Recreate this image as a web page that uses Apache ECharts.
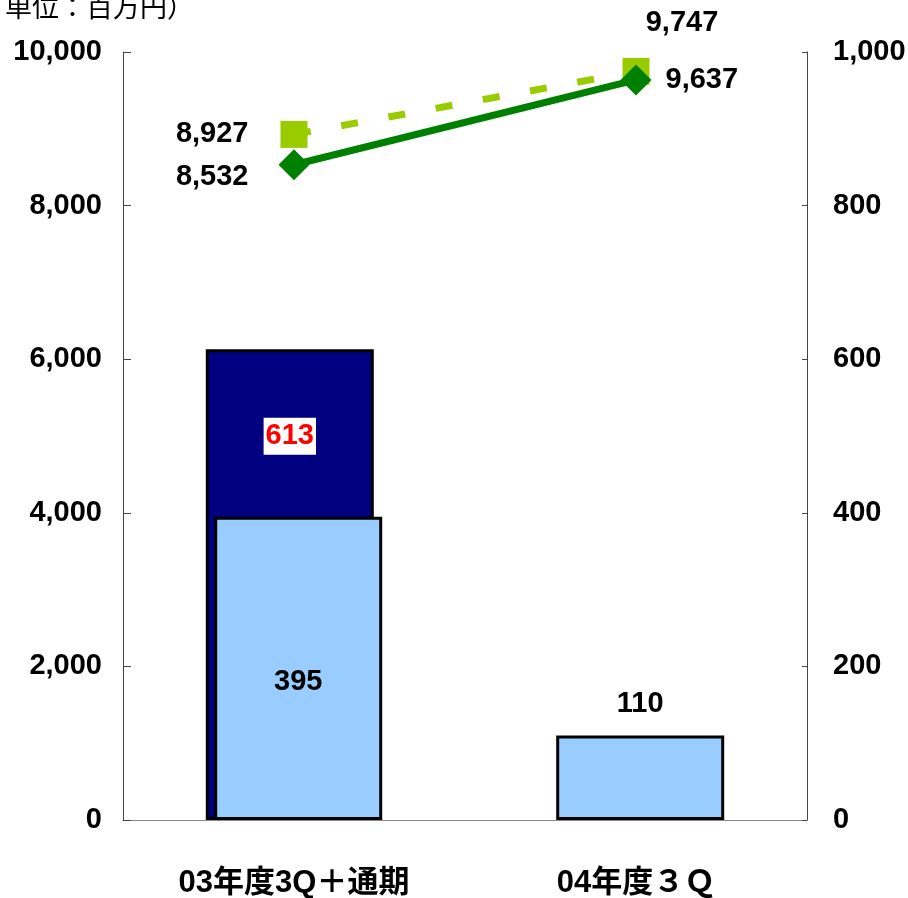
<!DOCTYPE html>
<html>
<head>
<meta charset="utf-8">
<script src="https://cdn.jsdelivr.net/npm/echarts@6/dist/echarts.min.js"></script>
<style>
  html, body { margin: 0; padding: 0; background: #fff; }
  #chart { width: 908px; height: 898px; }
</style>
</head>
<body>
<div id="chart"></div>
<script>
// data
const categories = ["03年度3Q＋通期", "04年度３Ｑ"];
const navyBar = [613, null];        // right axis
const lightBar = [395, 110];        // right axis
const squareLine = [8927, 9747];    // left axis
const diamondLine = [8532, 9637];   // left axis

const NUM_FONT = '"Liberation Sans", Arial, sans-serif';
const CAT_FONT = '"Liberation Sans", "Noto Sans CJK JP", sans-serif';
const fmt = (v) => Number(v).toLocaleString("en-US");

const numText = {
  color: "#000",
  fontFamily: NUM_FONT,
  fontWeight: "bold",
  fontSize: 29,
};

const chart = echarts.init(document.getElementById("chart"));

const option = {
  animation: false,
  grid: { left: 123, right: 101, top: 52, bottom: 78, outerBoundsMode: "none", containLabel: false },
  graphic: [
    {
      type: "text",
      left: 5,
      top: -7,
      style: {
        text: "単位：百万円）",
        fill: "#000",
        font: '27px "Noto Sans CJK JP", sans-serif',
      },
    },
  ],
  xAxis: {
    type: "category",
    data: categories,
    axisLine: { lineStyle: { color: "#888", width: 1 } },
    axisTick: { inside: true, length: 10, lineStyle: { color: "#888" } },
    axisLabel: {
      color: "#000",
      fontFamily: CAT_FONT,
      fontWeight: "bold",
      fontSize: 31,
      margin: 48,
    },
  },
  yAxis: [
    {
      type: "value",
      min: 0,
      max: 10000,
      interval: 2000,
      splitLine: { show: false },
      axisLine: { show: true, lineStyle: { color: "#444", width: 1 } },
      axisTick: { show: true, inside: true, length: 8, lineStyle: { color: "#444" } },
      axisLabel: Object.assign({ margin: 21, formatter: fmt }, numText),
    },
    {
      type: "value",
      min: 0,
      max: 1000,
      interval: 200,
      splitLine: { show: false },
      axisLine: { show: true, lineStyle: { color: "#444", width: 1 } },
      axisTick: { show: true, inside: true, length: 5, lineStyle: { color: "#444" } },
      axisLabel: Object.assign({ margin: 26, formatter: fmt }, numText),
    },
  ],
  series: [
    {
      type: "bar",
      yAxisIndex: 1,
      data: navyBar,
      barWidth: 168,
      itemStyle: { color: "#000080", borderColor: "#000", borderWidth: 3 },
      label: {
        show: true,
        position: ["50%", 87],
        align: "center",
        verticalAlign: "middle",
        color: "#ff0000",
        fontFamily: NUM_FONT,
        fontWeight: "bold",
        fontSize: 29,
        backgroundColor: "#fff",
        padding: [5, 2, 3, 2],
      },
      z: 2,
    },
    {
      type: "bar",
      yAxisIndex: 1,
      data: [
        { value: lightBar[0], label: { position: "inside", offset: [0, 14] } },
        { value: lightBar[1], label: { position: "top", distance: 17 } },
      ],
      barWidth: 168,
      barGap: "-95%",
      itemStyle: { color: "#99ccff", borderColor: "#000", borderWidth: 3 },
      label: Object.assign({ show: true }, numText),
      z: 3,
    },
    {
      type: "line",
      yAxisIndex: 0,
      data: [
        { value: squareLine[0], label: { position: "left", distance: 32 } },
        { value: squareLine[1], label: { position: "top", distance: 0, offset: [46, -20] } },
      ],
      symbol: "rect",
      symbolSize: 27,
      itemStyle: { color: "#99cc00" },
      lineStyle: { color: "#99cc00", width: 7, type: [17, 31] },
      label: Object.assign({ show: true, formatter: (p) => fmt(p.value) }, numText),
      z: 4,
    },
    {
      type: "line",
      yAxisIndex: 0,
      data: [
        { value: diamondLine[0], label: { position: "left", distance: 30, offset: [0, 12] } },
        { value: diamondLine[1], label: { position: "right", distance: 14 } },
      ],
      symbol: "diamond",
      symbolSize: 31,
      itemStyle: { color: "#008000" },
      lineStyle: { color: "#008000", width: 7 },
      label: Object.assign({ show: true, formatter: (p) => fmt(p.value) }, numText),
      z: 5,
    },
  ],
};

chart.setOption(option);
</script>
</body>
</html>
